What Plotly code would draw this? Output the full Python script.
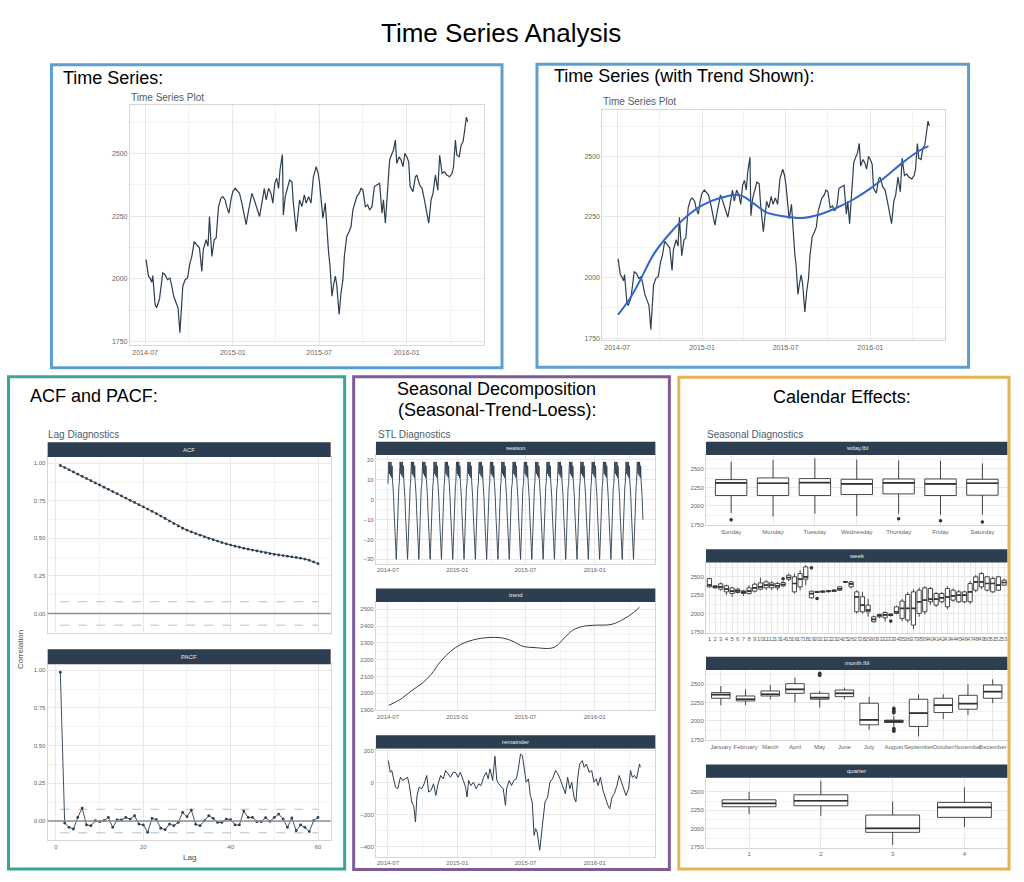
import pandas as pd
import plotly.graph_objects as go

# ------------------------------------------------------------------ data
START = pd.Timestamp("2014-07-01")

# observed daily series (day offset from START, value)
ts_day = [2, 7, 10, 14, 16, 21, 24, 30, 37, 42,
          47, 52, 56, 60, 65, 69, 73, 79, 84, 89,
          94, 98, 103, 108, 114, 119, 122, 128, 132, 135,
          140, 145, 149, 154, 159, 163, 168, 171, 176, 180,
          184, 189, 192, 198, 203, 208, 212, 216, 220, 224,
          229, 234, 240, 245, 250, 254, 259, 264, 268, 272,
          276, 280, 283, 288, 290, 294, 299, 303, 308, 311,
          317, 320, 324, 329, 334, 338, 343, 348, 353, 359,
          363, 366, 369, 373, 378, 381, 385, 388, 392, 395,
          399, 402, 407, 411, 415, 418, 423, 428, 432, 436,
          440, 444, 449, 453, 457, 462, 467, 471, 476, 481,
          486, 492, 497, 500, 504, 509, 513, 518, 521, 525,
          528, 533, 537, 541, 545, 549, 553, 556, 562, 567,
          570, 576, 581, 586, 591, 595, 600, 604, 609, 614,
          618, 623, 628, 633, 639, 644, 647, 651, 654, 659,
          663, 667, 670, 674, 677]
ts_val = [2077, 2011, 2004, 1987, 2013, 1898, 1885, 1918, 2024, 2017,
          1997, 2004, 1971, 1931, 1905, 1885, 1786, 1971, 1997, 2004,
          2063, 2090, 2149, 2136, 2123, 2030, 2116, 2156, 2130, 2249,
          2090, 2156, 2163, 2288, 2321, 2328, 2315, 2288, 2262, 2315,
          2348, 2361, 2354, 2341, 2302, 2249, 2216, 2262, 2302, 2341,
          2315, 2282, 2249, 2302, 2361, 2315, 2361, 2341, 2302, 2381,
          2401, 2361, 2434, 2496, 2255, 2328, 2368, 2394, 2387, 2302,
          2189, 2249, 2315, 2288, 2335, 2302, 2328, 2302, 2407, 2447,
          2421, 2381, 2315, 2242, 2302, 2209, 2103, 2050, 1931, 1971,
          2011, 1978, 1858, 1944, 1997, 2090, 2169, 2189, 2209, 2275,
          2302, 2328, 2341, 2361, 2354, 2288, 2295, 2275, 2288, 2368,
          2374, 2381, 2262, 2315, 2222, 2354, 2474, 2500, 2513, 2553,
          2460, 2487, 2474, 2447, 2500, 2487, 2467, 2368, 2348, 2407,
          2414, 2374, 2361, 2315, 2262, 2222, 2315, 2341, 2414, 2354,
          2493, 2421, 2427, 2414, 2407, 2421, 2447, 2553, 2493, 2487,
          2533, 2546, 2586, 2645, 2626]

# loess smoother shown in the second panel
smooth_day = [2, 29, 50, 79, 115, 151, 187, 223, 259, 273, 295,
              324, 360, 403, 439, 475, 511, 547, 583, 619, 655, 675]
smooth_val = [1847, 1918, 1990, 2096, 2184, 2253, 2301, 2328, 2342, 2335, 2307,
              2269, 2253, 2246, 2260, 2287, 2321, 2365, 2417, 2474, 2523, 2542]

# ACF / PACF
acf_lag = list(range(1, 61))
acf_val = [0.985, 0.971, 0.956, 0.942, 0.927, 0.913, 0.898, 0.884, 0.869, 0.855,
           0.840, 0.826, 0.811, 0.797, 0.782, 0.768, 0.753, 0.739, 0.724, 0.710,
           0.695, 0.680, 0.664, 0.648, 0.632, 0.615, 0.598, 0.582, 0.567, 0.554,
           0.543, 0.532, 0.521, 0.510, 0.500, 0.491, 0.482, 0.472, 0.463, 0.455,
           0.448, 0.441, 0.434, 0.428, 0.422, 0.416, 0.410, 0.404, 0.398, 0.393,
           0.389, 0.385, 0.381, 0.377, 0.373, 0.368, 0.362, 0.354, 0.343, 0.331]
pacf_val = [0.987, -0.013, -0.042, -0.053, 0.024, 0.086, -0.026, -0.031, 0.002, -0.004,
            0.002, 0.024, -0.042, 0.007, 0.007, 0.024, 0.013, 0.035, -0.020, -0.026,
            -0.075, 0.018, 0.009, -0.048, -0.057, -0.020, -0.031, -0.009, 0.057, 0.029,
            0.073, -0.022, -0.031, 0.002, 0.035, 0.018, -0.009, -0.009, 0.013, 0.009,
            -0.026, -0.026, 0.066, 0.024, 0.024, -0.004, -0.004, 0.022, -0.002, 0.024,
            0.046, 0.013, -0.042, 0.020, -0.064, -0.026, -0.042, -0.070, 0.002, 0.024]
conf_white_noise = 0.078

# STL components
season_cycle = [8, 15, 19, 18, 13, 19, 17, 12, 19, 16,
                11, 17, 10, 8, 3, 1, -5, -10, -15, -19,
                -22, -26, -30, -25, -17, -9, -2, 3, 5, 7]
n_days = 678
trend_day = [2, 35, 61, 92, 114, 140, 166, 192, 227, 271, 306, 332, 359,
             394, 429, 446, 468, 490, 516, 551, 586, 604, 630, 652, 668]
trend_val = [1928, 1967, 2013, 2062, 2111, 2190, 2249, 2289, 2318, 2332, 2328, 2309, 2279,
             2271, 2267, 2279, 2328, 2374, 2397, 2405, 2407, 2417, 2447, 2480, 2512]
rem_day = [1, 6, 10, 16, 20, 26, 33, 39, 45, 52,
           57, 63, 68, 73, 77, 83, 90, 96, 103, 108,
           114, 121, 127, 133, 140, 147, 153, 159, 166, 173,
           179, 186, 192, 200, 206, 210, 214, 220, 227, 234,
           241, 247, 254, 261, 266, 271, 278, 284, 289, 294,
           299, 306, 312, 315, 322, 328, 334, 341, 346, 352,
           357, 362, 367, 373, 378, 383, 388, 392, 396, 403,
           407, 411, 417, 424, 430, 437, 445, 451, 457, 464,
           471, 477, 483, 488, 494, 499, 504, 509, 516, 521,
           527, 534, 541, 547, 553, 558, 564, 571, 578, 584,
           589, 595, 601, 608, 614, 620, 626, 632, 639, 644,
           649, 655, 660, 663, 668, 670]
rem_val = [139, 66, 77, 15, -27, -37, 35, 15, 25, 35,
           -17, -120, -141, -245, -79, -27, -37, -6, 46, -58,
           -48, -6, -79, -6, 46, 25, 77, 56, 35, 66,
           66, 35, 66, 15, -27, -89, 15, -17, 4, -37,
           -6, -17, 35, 66, 25, 87, 15, 166, 15, -6,
           -17, -37, -141, -37, 15, -17, 15, 25, 87, 180,
           170, 77, 4, 25, -79, -120, -328, -286, -307, -421,
           -307, -245, -120, -89, 4, 25, 77, 56, 25, -27,
           -68, 35, -37, 4, -89, -120, 35, 118, 139, 97,
           118, 66, 77, 4, 25, -17, 35, -48, -100, -141,
           -162, -89, -68, -17, 46, 4, -48, -79, -37, 77,
           35, 46, 25, 66, 118, 97]

# seasonal diagnostics: box statistics
wday_lbl = ["Sunday", "Monday", "Tuesday", "Wednesday", "Thursday", "Friday", "Saturday"]
wday_lo = [1903, 1858, 1894, 1863, 1894, 1881, 1881]
wday_q1 = [2141, 2141, 2141, 2154, 2163, 2141, 2145]
wday_med = [2311, 2307, 2316, 2298, 2311, 2298, 2307]
wday_q3 = [2356, 2379, 2370, 2361, 2365, 2365, 2361]
wday_hi = [2599, 2621, 2644, 2626, 2617, 2612, 2576]
wday_out_cat = ["Sunday", "Thursday", "Friday", "Saturday"]
wday_out_val = [1813, 1827, 1800, 1782]

week_num = list(range(1, 54))
week_lo = [2348, 2340, 2312, 2250, 2227, 2272, 2240, 2258, 2285, 2316,
           2321, 2316, 2316, 2361, 2437, 2272, 2316, 2384, 2200, 2280,
           2285, 2290, 2295, 2310, 2426, 2340,
           2000, 2000, 1960, 1880, 1940, 1891, 1960, 1990, 1900, 1880,
           1792, 1960, 1990, 2120, 2090, 2140, 2060, 2160, 2140, 2140,
           2130, 2290, 2330, 2300, 2280, 2310, 2380]
week_q1 = [2361, 2348, 2330, 2294, 2272, 2285, 2272, 2272, 2303, 2330,
           2348, 2348, 2348, 2375, 2464, 2294, 2361, 2464, 2213, 2285,
           2290, 2295, 2300, 2316, 2427, 2361,
           2025, 2025, 2025, 1891, 1958, 1944, 1975, 2003, 1936, 1913,
           1846, 2003, 2025, 2160, 2115, 2160, 2092, 2182, 2160, 2160,
           2160, 2316, 2361, 2316, 2294, 2316, 2384]
week_med = [2384, 2361, 2361, 2330, 2303, 2307, 2290, 2303, 2348, 2361,
            2384, 2384, 2375, 2393, 2487, 2406, 2464, 2496, 2270, 2290,
            2298, 2302, 2310, 2335, 2428, 2400,
            2227, 2115, 2048, 1922, 1975, 1985, 1985, 2025, 2070, 2070,
            2070, 2160, 2182, 2196, 2196, 2213, 2227, 2240, 2249, 2249,
            2294, 2428, 2428, 2406, 2406, 2384, 2420]
week_q3 = [2473, 2375, 2402, 2375, 2348, 2330, 2307, 2348, 2397, 2415,
           2428, 2415, 2406, 2419, 2518, 2496, 2540, 2630, 2303, 2300,
           2305, 2310, 2318, 2361, 2430, 2428,
           2294, 2227, 2115, 1958, 1989, 2016, 1995, 2092, 2169, 2258,
           2294, 2316, 2348, 2339, 2272, 2272, 2339, 2316, 2294, 2294,
           2406, 2496, 2540, 2496, 2473, 2496, 2451]
week_hi = [2482, 2384, 2420, 2393, 2361, 2348, 2321, 2384, 2420, 2487,
           2451, 2437, 2428, 2440, 2540, 2540, 2585, 2652, 2310, 2305,
           2310, 2316, 2321, 2370, 2432, 2440,
           2316, 2294, 2200, 1975, 2000, 2030, 2005, 2110, 2200, 2290,
           2330, 2350, 2370, 2360, 2290, 2290, 2370, 2340, 2320, 2310,
           2440, 2520, 2560, 2510, 2500, 2510, 2470]
week_out_num = [14, 19, 20, 33]
week_out_val = [2470, 2617, 2204, 1900]

month_lbl = ["January", "February", "March", "April", "May", "June", "July",
             "August", "September", "October", "November", "December"]
month_lo = [2213, 2217, 2294, 2249, 2181, 2294, 1881, 1921, 1791, 2024, 2078, 2240]
month_q1 = [2307, 2271, 2338, 2374, 2294, 2329, 1948, 1979, 1926, 2114, 2159, 2307]
month_med = [2356, 2294, 2361, 2428, 2316, 2374, 2015, 1997, 2105, 2213, 2235, 2397]
month_q3 = [2383, 2338, 2406, 2504, 2374, 2419, 2240, 2011, 2294, 2307, 2347, 2487]
month_hi = [2473, 2428, 2487, 2585, 2406, 2451, 2329, 2069, 2361, 2361, 2496, 2563]
month_out_cat = ["May", "May", "May", "August", "August", "August", "August",
                 "August", "August", "August"]
month_out_val = [2617, 2630, 2645, 2110, 2130, 2150, 2170, 1899, 1880, 1860]

quarter_lbl = ["1", "2", "3", "4"]
quarter_lo = [2199, 2177, 1781, 2020]
quarter_q1 = [2298, 2311, 1952, 2154]
quarter_med = [2343, 2379, 2006, 2289]
quarter_q3 = [2392, 2460, 2186, 2357]
quarter_hi = [2500, 2648, 2370, 2559]

# ------------------------------------------------------------------ helpers
W, H = 1024, 882
FONT = "Liberation Sans, Arial, sans-serif"
DARK = "#2c3e50"
GRID = "#e8e8e8"
MINOR = "#f3f3f3"
FRAME = "#d6d6d6"
TICK = "#666666"
BOXC = "#333333"


def fx(p):
    return p / W


def fy(p):
    return 1 - p / H


def to_dates(days):
    return (START + pd.to_timedelta(days, unit="D")).strftime("%Y-%m-%d").tolist()


DATE_TICKS = ["2014-07-01", "2015-01-01", "2015-07-01", "2016-01-01"]
DATE_TEXT = ["2014-07", "2015-01", "2015-07", "2016-01"]
DATE_MINOR = ["2014-10-01", "2015-04-01", "2015-10-01", "2016-04-01"]
DATE_RANGE = ["2014-05-30", "2016-06-10"]


def axis(domain, anchor, size, tickvals, ticktext=None, minor=None, rng=None,
         labels=True, **kw):
    d = dict(domain=domain, anchor=anchor, showline=True, mirror=True,
             linecolor=FRAME, linewidth=1, showgrid=True, gridcolor=GRID,
             gridwidth=1, zeroline=False, ticks="", tickmode="array",
             tickvals=tickvals, showticklabels=labels, tickangle=0,
             tickfont=dict(size=size, color=TICK, family=FONT))
    if ticktext is not None:
        d["ticktext"] = ticktext
    if minor is not None:
        d["minor"] = dict(tickmode="array", tickvals=minor, showgrid=True,
                          gridcolor=MINOR, gridwidth=1, ticks="")
    if rng is not None:
        d["range"] = rng
    d.update(kw)
    return d


fig = go.Figure()
layout = {}
shapes = []
annos = []


def strip(x0, x1, y0, y1, label):
    shapes.append(dict(type="rect", xref="paper", yref="paper",
                       x0=fx(x0), x1=fx(x1), y0=fy(y1), y1=fy(y0),
                       fillcolor=DARK, line=dict(width=0), layer="above"))
    annos.append(dict(x=fx((x0 + x1) / 2), y=fy((y0 + y1) / 2), xref="paper",
                      yref="paper", text=label, showarrow=False,
                      font=dict(size=6, color="#e8ecef", family=FONT),
                      xanchor="center", yanchor="middle"))


def text(x, y, s, size, color="black", xanchor="left", angle=0):
    annos.append(dict(x=fx(x), y=fy(y), xref="paper", yref="paper", text=s,
                      showarrow=False, textangle=angle,
                      font=dict(size=size, color=color, family=FONT),
                      xanchor=xanchor, yanchor="middle"))


def border(x0, y0, x1, y1, color):
    shapes.append(dict(type="rect", xref="paper", yref="paper",
                       x0=fx(x0), x1=fx(x1), y0=fy(y1), y1=fy(y0),
                       line=dict(color=color, width=3), layer="above"))


def add_boxes(ax, n, cats, lo, q1, med, q3, hi, out_cat=None, out_val=None):
    pos = list(range(len(cats)))
    fig.add_trace(go.Box(x=pos, q1=q1, median=med, q3=q3, lowerfence=lo,
                         upperfence=hi, width=0.75, whiskerwidth=0,
                         fillcolor="white", boxpoints=False,
                         line=dict(color=BOXC, width=0.9),
                         xaxis="x" + ax, yaxis="y" + ax, hoverinfo="skip"))
    mx, my = [], []
    for p, m in zip(pos, med):
        mx += [p - 0.375, p + 0.375, None]
        my += [m, m, None]
    fig.add_trace(go.Scatter(x=mx, y=my, mode="lines",
                             line=dict(color=BOXC, width=1.7),
                             xaxis="x" + ax, yaxis="y" + ax, hoverinfo="skip"))
    if out_cat:
        ox = [cats.index(c) for c in out_cat]
        fig.add_trace(go.Scatter(x=ox, y=out_val, mode="markers",
                                 marker=dict(color=BOXC, size=3.6),
                                 xaxis="x" + ax, yaxis="y" + ax, hoverinfo="skip"))


# ------------------------------------------------------------------ panel 1 & 2: time series
ts_dates = to_dates(ts_day)
fig.add_trace(go.Scatter(x=ts_dates, y=ts_val, mode="lines",
                         line=dict(color=DARK, width=1.2), xaxis="x", yaxis="y"))
fig.add_trace(go.Scatter(x=ts_dates, y=ts_val, mode="lines",
                         line=dict(color=DARK, width=1.2), xaxis="x2", yaxis="y2"))
fig.add_trace(go.Scatter(x=to_dates(smooth_day), y=smooth_val, mode="lines",
                         line=dict(color="#3366cc", width=2, shape="spline"),
                         xaxis="x2", yaxis="y2"))

TS_Y = [1750, 2000, 2250, 2500]
TS_YM = [1875, 2125, 2375, 2625]
layout["xaxis"] = axis([fx(130), fx(484)], "y", 7, DATE_TICKS, DATE_TEXT,
                       DATE_MINOR, DATE_RANGE, type="date")
layout["yaxis"] = axis([fy(346), fy(104)], "x", 7, TS_Y, None, TS_YM, [1735, 2695])
layout["xaxis2"] = axis([fx(603), fx(945.5)], "y2", 7, DATE_TICKS, DATE_TEXT,
                        DATE_MINOR, DATE_RANGE, type="date")
layout["yaxis2"] = axis([fy(341), fy(109)], "x2", 7, TS_Y, None, TS_YM, [1741, 2693])

# ------------------------------------------------------------------ panel 3: ACF / PACF
for ax, vals in (("3", acf_val), ("4", pacf_val)):
    for s in (1, -1):
        fig.add_trace(go.Scatter(x=[acf_lag[0], acf_lag[-1]],
                                 y=[s * conf_white_noise] * 2, mode="lines",
                                 line=dict(color="#b3c0cd", width=1, dash="dash"),
                                 xaxis="x" + ax, yaxis="y" + ax))
    shapes.append(dict(type="line", xref="x%s domain" % ax, yref="y" + ax,
                       x0=0, x1=1, y0=0, y1=0,
                       line=dict(color="#8f8f8f", width=1.6)))
    fig.add_trace(go.Scatter(x=acf_lag, y=vals, mode="lines+markers",
                             line=dict(color=DARK, width=0.9),
                             marker=dict(color=DARK, size=2.8),
                             xaxis="x" + ax, yaxis="y" + ax))

ACF_Y = [0, 0.25, 0.5, 0.75, 1.0]
ACF_YT = ["0.00", "0.25", "0.50", "0.75", "1.00"]
ACF_YM = [-0.125, 0.125, 0.375, 0.625, 0.875]
LAG_X = [0, 20, 40, 60]
LAG_XM = [10, 30, 50]
layout["xaxis3"] = axis([fx(47.7), fx(331)], "y3", 6, LAG_X, None, LAG_XM,
                        [-1.9, 62.9], labels=False)
layout["yaxis3"] = axis([fy(635), fy(458)], "x3", 6, ACF_Y, ACF_YT, ACF_YM, [-0.131, 1.042])
layout["xaxis4"] = axis([fx(47.7), fx(331)], "y4", 6, LAG_X, None, LAG_XM, [-1.9, 62.9])
layout["yaxis4"] = axis([fy(843.3), fy(666.3)], "x4", 6, ACF_Y, ACF_YT, ACF_YM, [-0.129, 1.04])

# ------------------------------------------------------------------ panel 4: STL
season_days = list(range(n_days))
season_vals = [season_cycle[d % len(season_cycle)] for d in season_days]
fig.add_trace(go.Scatter(x=to_dates(season_days), y=season_vals, mode="lines",
                         line=dict(color=DARK, width=0.9), xaxis="x5", yaxis="y5"))
fig.add_trace(go.Scatter(x=to_dates(trend_day), y=trend_val, mode="lines",
                         line=dict(color=DARK, width=1, shape="spline"),
                         xaxis="x6", yaxis="y6"))
fig.add_trace(go.Scatter(x=to_dates(rem_day), y=rem_val, mode="lines",
                         line=dict(color=DARK, width=1), xaxis="x7", yaxis="y7"))

STL_X = [fx(376.3), fx(656)]
layout["xaxis5"] = axis(STL_X, "y5", 6, DATE_TICKS, DATE_TEXT, DATE_MINOR,
                        DATE_RANGE, type="date")
layout["yaxis5"] = axis([fy(565.7), fy(456)], "x5", 6, [-30, -20, -10, 0, 10, 20],
                        None, [-25, -15, -5, 5, 15], [-32.4, 22.5])
layout["xaxis6"] = axis(STL_X, "y6", 6, DATE_TICKS, DATE_TEXT, DATE_MINOR,
                        DATE_RANGE, type="date")
layout["yaxis6"] = axis([fy(712.7), fy(603.7)], "x6", 6,
                        [1900, 2000, 2100, 2200, 2300, 2400, 2500], None,
                        [1950, 2050, 2150, 2250, 2350, 2450], [1898, 2543])
layout["xaxis7"] = axis(STL_X, "y7", 6, DATE_TICKS, DATE_TEXT, DATE_MINOR,
                        DATE_RANGE, type="date")
layout["yaxis7"] = axis([fy(860), fy(751)], "x7", 6, [-400, -200, 0, 200], None,
                        [-300, -100, 100], [-464, 214])

# ------------------------------------------------------------------ panel 5: calendar effects
add_boxes("8", 7, wday_lbl, wday_lo, wday_q1, wday_med, wday_q3, wday_hi,
          wday_out_cat, wday_out_val)
week_lbl = [str(k) for k in week_num]
add_boxes("9", 53, week_lbl, week_lo, week_q1, week_med, week_q3, week_hi,
          [str(k) for k in week_out_num], week_out_val)
add_boxes("10", 12, month_lbl, month_lo, month_q1, month_med, month_q3, month_hi,
          month_out_cat, month_out_val)
add_boxes("11", 4, quarter_lbl, quarter_lo, quarter_q1, quarter_med, quarter_q3,
          quarter_hi)

CAL_X = [fx(706.7), fx(1008.5)]
CAL_RANGE = [1738, 2690]
for ax, cats, ydom in (("8", wday_lbl, (526.7, 456)), ("9", week_lbl, (635, 564)),
                       ("10", month_lbl, (742.7, 672)), ("11", quarter_lbl, (851, 780.3))):
    n = len(cats)
    layout["xaxis" + ax] = axis(CAL_X, "y" + ax, 6, list(range(n)), cats, None,
                                [-0.6, n - 0.4])
    layout["yaxis" + ax] = axis([fy(ydom[0]), fy(ydom[1])], "x" + ax, 6, TS_Y, None,
                                TS_YM, CAL_RANGE)

# ------------------------------------------------------------------ strips
strip(47.7, 331, 443.3, 458, "ACF")
strip(47.7, 331, 651.3, 666.3, "PACF")
strip(376.3, 656, 442.7, 456, "season")
strip(376.3, 656, 590.3, 603.7, "trend")
strip(376.3, 656, 737.7, 751, "remainder")
strip(706.7, 1008.5, 442.7, 456, "wday.lbl")
strip(706.7, 1008.5, 550.7, 564, "week")
strip(706.7, 1008.5, 658.7, 672, "month.lbl")
strip(706.7, 1008.5, 767, 780.3, "quarter")

# ------------------------------------------------------------------ texts
SUB = "#4e5d6c"
text(501.5, 32, "Time Series Analysis", 26, xanchor="center")
text(61, 77, "Time Series:", 18)
text(553, 75.5, "Time Series (with Trend Shown):", 18)
text(28.5, 397, "ACF and PACF:", 18)
text(497, 390, "Seasonal Decomposition", 18, xanchor="center")
text(497, 411, "(Seasonal-Trend-Loess):", 18, xanchor="center")
text(842.7, 398, "Calendar Effects:", 18, xanchor="center")
text(129, 97, "Time Series Plot", 10, SUB)
text(602, 100.5, "Time Series Plot", 10, SUB)
text(46.5, 435.7, "Lag Diagnostics", 10, SUB)
text(376, 435.7, "STL Diagnostics", 10, SUB)
text(706, 435.7, "Seasonal Diagnostics", 10, SUB)
text(189.5, 860, "Lag", 8, "#4d4d4d", xanchor="center")
text(20, 651, "Correlation", 8, "#4d4d4d", xanchor="center", angle=-90)

# ------------------------------------------------------------------ panel borders
border(51.5, 64, 502.5, 368.5, "#5d9fd3")
border(537.5, 63.5, 969.5, 368, "#5d9fd3")
border(8.5, 377.5, 345, 872, "#3aa596")
border(354, 377.5, 670, 872.5, "#7e5c98")
border(679.5, 378, 1010, 872, "#e3b456")

layout.update(dict(width=W, height=H, margin=dict(l=0, r=0, t=0, b=0),
                   paper_bgcolor="white", plot_bgcolor="white", showlegend=False,
                   font=dict(family=FONT), shapes=shapes, annotations=annos,
                   hovermode=False))
fig.update_layout(**layout)
fig.write_html("out.html",
               config={"displayModeBar": False, "staticPlot": True},
               post_script="document.body.style.margin='0';"
                           "document.body.style.overflow='hidden';")
